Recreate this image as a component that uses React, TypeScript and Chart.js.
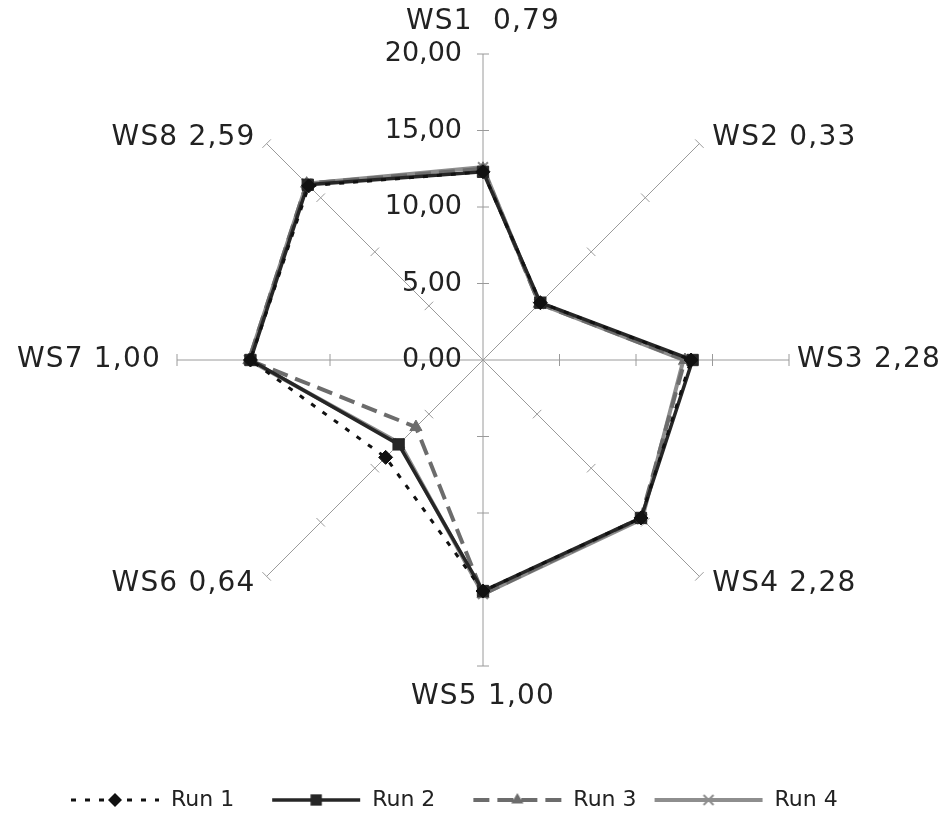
import React, { useEffect, useRef } from 'react';
import { Chart, registerables } from 'chart.js';

Chart.register(...registerables);

// ---- data ----
const categories = ['WS1  0,79', 'WS2 0,33', 'WS3 2,28', 'WS4 2,28', 'WS5 1,00', 'WS6 0,64', 'WS7 1,00', 'WS8 2,59'];
const seriesNames = ['Run 1', 'Run 2', 'Run 3', 'Run 4'];
const run1 = [12.3, 5.3, 13.6, 14.6, 15.1, 9.0, 15.2, 16.1];
const run2 = [12.3, 5.3, 13.7, 14.6, 15.1, 7.8, 15.2, 16.2];
const run3 = [12.5, 5.2, 13.2, 14.6, 15.3, 6.2, 15.3, 16.3];
const run4 = [12.6, 5.2, 13.1, 14.7, 15.3, 7.7, 15.3, 16.3];
const axisMin = 0;
const axisMax = 20;
const axisStep = 5;

const FONT = "'DejaVu Sans', Verdana, sans-serif";
const TEXT = '#222222';

type St = { color: string; width: number; dash: number[]; point: string; radius: number; fill: string };
const styles: St[] = [
  { color: '#111111', width: 3, dash: [5, 9], point: 'rectRot', radius: 7, fill: '#111111' },
  { color: '#262626', width: 3.5, dash: [], point: 'rect', radius: 8, fill: '#262626' },
  { color: '#6c6c6c', width: 4, dash: [16, 8], point: 'triangle', radius: 7, fill: '#6c6c6c' },
  { color: '#8e8e8e', width: 4, dash: [], point: 'crossRot', radius: 7, fill: '#8e8e8e' },
];

const BOX = 90;

function drawMarker(g: CanvasRenderingContext2D, st: St, x: number, y: number) {
  const r = st.radius;
  g.save();
  g.setLineDash([]);
  g.fillStyle = st.fill;
  g.strokeStyle = st.color;
  g.lineWidth = 2;
  g.beginPath();
  if (st.point === 'rectRot') {
    g.moveTo(x, y - r); g.lineTo(x + r, y); g.lineTo(x, y + r); g.lineTo(x - r, y); g.closePath(); g.fill();
  } else if (st.point === 'rect') {
    const s = r * Math.SQRT1_2;
    g.rect(x - s, y - s, 2 * s, 2 * s); g.fill();
  } else if (st.point === 'triangle') {
    g.moveTo(x, y - r); g.lineTo(x + r * 0.87, y + r * 0.5); g.lineTo(x - r * 0.87, y + r * 0.5); g.closePath(); g.fill();
  } else {
    const s = r * Math.SQRT1_2;
    g.moveTo(x - s, y - s); g.lineTo(x + s, y + s); g.moveTo(x + s, y - s); g.lineTo(x - s, y + s); g.stroke();
  }
  g.restore();
}

// legend symbol: a short line with the series' marker; extra = how far the line reaches left of its box
function makeIcon(st: St, extra: number): HTMLCanvasElement {
  const c = document.createElement('canvas');
  c.width = BOX + 2 * extra; c.height = 24;
  const g = c.getContext('2d')!;
  g.strokeStyle = st.color;
  g.lineWidth = st.width;
  g.setLineDash(st.dash);
  g.beginPath(); g.moveTo(1, 12); g.lineTo(BOX + extra - 1, 12); g.stroke();
  drawMarker(g, st, (BOX + extra) / 2, 12);
  return c;
}

const fmt = (v: number) => v.toFixed(2).replace('.', ',');

const radarDecor = {
  id: 'radarDecor',
  beforeDatasetsDraw(chart: any) {
    const scale = chart.scales.r;
    const ctx = chart.ctx;
    const n = chart.data.labels.length;
    ctx.save();
    ctx.strokeStyle = '#9a9a9a';
    ctx.lineWidth = 1;
    for (let i = 0; i < n; i++) {
      for (const t of scale.ticks) {
        if (t.value <= axisMin) continue;
        const d = scale.getDistanceFromCenterForValue(t.value);
        const p = scale.getPointPosition(i, d);
        const px = -Math.sin(p.angle) * 6;
        const py = Math.cos(p.angle) * 6;
        ctx.beginPath();
        ctx.moveTo(p.x - px, p.y - py);
        ctx.lineTo(p.x + px, p.y + py);
        ctx.stroke();
      }
    }
    ctx.restore();
  },
  afterDraw(chart: any) {
    const scale = chart.scales.r;
    const ctx = chart.ctx;
    const n = chart.data.labels.length;
    ctx.save();
    ctx.fillStyle = TEXT;
    // tick labels
    ctx.font = `27px ${FONT}`;
    ctx.textAlign = 'right';
    ctx.textBaseline = 'middle';
    for (const t of scale.ticks) {
      const y = scale.yCenter - scale.getDistanceFromCenterForValue(t.value);
      ctx.fillText(fmt(t.value), scale.xCenter - 21, y);
    }
    // point labels
    ctx.font = `28px ${FONT}`;
    (ctx as any).letterSpacing = '1.2px';
    ctx.textBaseline = 'middle';
    for (let i = 0; i < n; i++) {
      const deg = (i * 360) / n;
      const end = scale.getPointPosition(i, scale.drawingArea);
      let x = end.x;
      let y = end.y;
      let align: CanvasTextAlign = 'left';
      if (deg === 0) { align = 'center'; y -= 32; }
      else if (deg === 180) { align = 'center'; y += 31; }
      else if (deg === 90) { x += 8; }
      else if (deg === 270) { align = 'right'; x -= 16; }
      else if (deg < 90) { x += 13; y -= 6; }
      else if (deg < 180) { x += 13; y += 7; }
      else if (deg < 270) { align = 'right'; x -= 11; y += 7; }
      else { align = 'right'; x -= 11; y -= 6; }
      ctx.textAlign = align;
      ctx.fillText(chart.data.labels[i], x, y);
    }
    ctx.restore();
  },
};

export default function App() {
  const ref = useRef<HTMLCanvasElement | null>(null);
  useEffect(() => {
    if (!ref.current) return;
    const icons = styles.map((s, i) => makeIcon(s, i === 3 ? 20 : 0));
    const seriesData = [run1, run2, run3, run4];
    const chart = new Chart(ref.current, {
      type: 'radar',
      data: {
        labels: categories,
        datasets: seriesNames.map((name, i) => ({
          label: name,
          data: seriesData[i],
          borderColor: styles[i].color,
          borderWidth: styles[i].width,
          borderDash: styles[i].dash,
          backgroundColor: 'transparent',
          fill: false,
          pointStyle: styles[i].point as any,
          pointRadius: styles[i].radius,
          pointBackgroundColor: styles[i].fill,
          pointBorderColor: styles[i].color,
          pointBorderWidth: styles[i].point === 'crossRot' ? 2 : 1,
        })),
      },
      options: {
        responsive: true,
        maintainAspectRatio: false,
        animation: false,
        layout: { padding: { top: 46, left: 25, right: 10, bottom: -13 } },
        scales: {
          r: {
            min: axisMin,
            max: axisMax,
            ticks: { display: false, stepSize: axisStep },
            grid: { display: false },
            angleLines: { display: true, color: '#9a9a9a', lineWidth: 1 },
            pointLabels: { display: false },
          },
        },
        plugins: {
          tooltip: { enabled: false },
          legend: {
            position: 'bottom',
            align: 'start',
            title: { display: true, text: '', padding: { top: 71.6, bottom: 0 }, font: { size: 12 } },
            labels: {
              usePointStyle: true,
              pointStyleWidth: BOX,
              padding: 37,
              color: TEXT,
              font: { family: FONT, size: 22 },
              generateLabels: (c: any) =>
                c.data.datasets.map((ds: any, i: number) => ({
                  text: ds.label,
                  pointStyle: icons[i],
                  fillStyle: 'transparent',
                  strokeStyle: 'transparent',
                  lineWidth: 0,
                  hidden: false,
                  datasetIndex: i,
                  fontColor: TEXT,
                })),
            },
          },
        },
      },
      plugins: [radarDecor],
    });
    return () => chart.destroy();
  }, []);
  return (
    <div style={{ position: 'relative', width: 935, height: 800 }}>
      <canvas ref={ref} />
    </div>
  );
}
